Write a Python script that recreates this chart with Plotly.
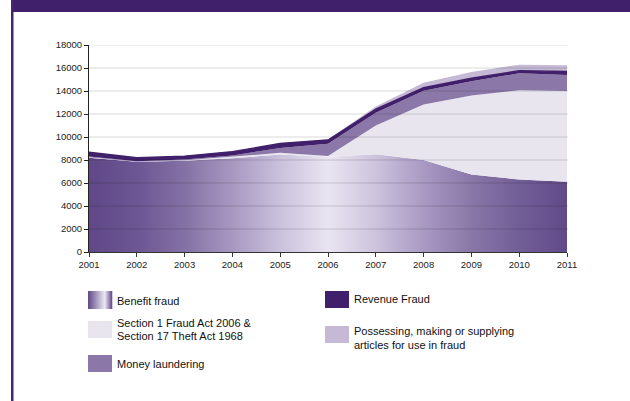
import plotly.graph_objects as go

# ---- data -------------------------------------------------------------
years = [2001, 2002, 2003, 2004, 2005, 2006, 2007, 2008, 2009, 2010, 2011]

benefit_fraud = [8200, 7850, 7930, 8150, 8470, 8280, 8500, 8000, 6730, 6300, 6100]
section1_fraud_act = [30, 20, 50, 120, 150, 60, 2510, 4830, 6880, 7770, 7910]
money_laundering = [70, 30, 60, 130, 430, 1070, 1090, 1190, 1240, 1470, 1390]
revenue_fraud = [380, 300, 300, 330, 380, 330, 330, 260, 260, 230, 290]
possessing_articles = [0, 0, 0, 20, 40, 40, 230, 430, 550, 520, 540]

y_ticks = list(range(0, 18001, 2000))
y_tick_labels = [str(v) for v in y_ticks]

# ---- colours ----------------------------------------------------------
DARK = "#41206b"
C_SECTION1 = "#e8e5ee"
C_MONEY = "#8b77a8"
C_POSSESS = "#c6b9d5"
benefit_scale = [
    [0.0, "rgb(96,72,136)"],
    [0.1, "rgb(108,86,147)"],
    [0.2, "rgb(132,113,164)"],
    [0.3, "rgb(168,152,193)"],
    [0.4, "rgb(202,193,220)"],
    [0.5, "rgb(233,229,241)"],
    [0.6, "rgb(205,195,221)"],
    [0.7, "rgb(168,153,194)"],
    [0.8, "rgb(138,119,168)"],
    [0.9, "rgb(114,94,151)"],
    [1.0, "rgb(98,74,138)"],
]

# plot-area geometry in pixels (used for the frame and the legend)
W, H = 630, 401
L, R, T, B = 89, 567, 45, 252


def px(x):
    return (x - L) / (R - L)


def py(y):
    return (B - y) / (B - T)


fig = go.Figure()

fig.add_trace(go.Scatter(
    x=years, y=benefit_fraud, name="Benefit fraud", mode="lines",
    stackgroup="s", line=dict(width=0, color="rgb(96,72,136)"),
    fillgradient=dict(type="horizontal", colorscale=benefit_scale),
))
fig.add_trace(go.Scatter(
    x=years, y=section1_fraud_act, name="Section 1 Fraud Act 2006 & Section 17 Theft Act 1968",
    mode="lines", stackgroup="s", line=dict(width=0, color=C_SECTION1), fillcolor=C_SECTION1,
))
fig.add_trace(go.Scatter(
    x=years, y=money_laundering, name="Money laundering", mode="lines",
    stackgroup="s", line=dict(width=0, color=C_MONEY), fillcolor=C_MONEY,
))
fig.add_trace(go.Scatter(
    x=years, y=revenue_fraud, name="Revenue Fraud", mode="lines",
    stackgroup="s", line=dict(width=1.4, color=DARK), fillcolor=DARK,
))
fig.add_trace(go.Scatter(
    x=years, y=possessing_articles, name="Possessing, making or supplying articles for use in fraud",
    mode="lines", stackgroup="s", line=dict(width=0, color=C_POSSESS), fillcolor=C_POSSESS,
))

shapes = []
# gridlines drawn over the areas
for v in y_ticks[1:]:
    shapes.append(dict(type="line", xref="paper", yref="y", x0=0, x1=1.002, y0=v, y1=v,
                       line=dict(color="rgba(0,0,0,0.15)", width=1.2), layer="above"))

# page frame: top band and left rule
shapes.append(dict(type="rect", xref="paper", yref="paper", x0=px(11), x1=px(W + 5),
                   y0=py(12), y1=py(-5), fillcolor=DARK, line=dict(width=0), layer="above"))
shapes.append(dict(type="rect", xref="paper", yref="paper", x0=px(11), x1=px(13.5),
                   y0=py(H + 5), y1=py(0), fillcolor="#46246f", line=dict(width=0), layer="above"))

annotations = []


def swatch(x0, y0, x1, y1, color):
    shapes.append(dict(type="rect", xref="paper", yref="paper", x0=px(x0), x1=px(x1),
                       y0=py(y1), y1=py(y0), fillcolor=color, line=dict(width=0)))


def label(x, y, text):
    annotations.append(dict(xref="paper", yref="paper", x=px(x), y=py(y), text=text,
                            showarrow=False, xanchor="left", yanchor="middle",
                            font=dict(size=11, color="#111111",
                                      family="Liberation Sans, Arial, sans-serif")))


# gradient swatch for Benefit fraud, built from thin strips
sw_x0, sw_x1 = 88, 112
n = 24
for i in range(n):
    t = (i + 0.5) / n
    # colour along the swatch: dark -> light -> dark
    u = min(1.0, t / 0.7) if t <= 0.7 else 1 - (t - 0.7) / 0.3
    c0, c1 = (96, 72, 136), (236, 232, 243)
    col = "rgb(%d,%d,%d)" % tuple(round(a + (b - a) * u) for a, b in zip(c0, c1))
    swatch(sw_x0 + i * (sw_x1 - sw_x0) / n, 291, sw_x0 + (i + 1) * (sw_x1 - sw_x0) / n + 0.3, 309, col)
label(115, 300.5, "Benefit fraud")

swatch(88, 321, 112, 338, C_SECTION1)
label(115, 322.5, "Section 1 Fraud Act 2006 &")
label(115, 336, "Section 17 Theft Act 1968")

swatch(88, 355, 112, 372, C_MONEY)
label(115, 363.5, "Money laundering")

swatch(325, 291, 349, 308, DARK)
label(352, 299, "Revenue Fraud")

swatch(325, 326, 349, 343, C_POSSESS)
label(352, 331, "Possessing, making or supplying")
label(352, 344.5, "articles for use in fraud")

tick_font = dict(size=9.5, color="#222222", family="Liberation Sans, Arial, sans-serif")

fig.update_layout(
    width=W, height=H,
    margin=dict(l=L, r=W - R, t=T, b=H - B),
    paper_bgcolor="white", plot_bgcolor="white",
    showlegend=False,
    shapes=shapes, annotations=annotations,
    xaxis=dict(
        range=[2001, 2011], tickmode="array", tickvals=years,
        ticktext=[str(y) for y in years], showgrid=False, zeroline=False,
        showline=True, linecolor="#333333", linewidth=1,
        ticks="outside", ticklen=4, tickcolor="#333333", tickfont=tick_font,
        layer="above traces", fixedrange=True,
    ),
    yaxis=dict(
        range=[0, 18000], tickmode="array", tickvals=y_ticks, ticktext=y_tick_labels,
        showgrid=False, zeroline=False,
        showline=True, linecolor="#222222", linewidth=1,
        ticks="outside", ticklen=4, tickcolor="#222222", tickfont=tick_font,
        layer="above traces", fixedrange=True,
    ),
)

fig.write_html("out.html")
